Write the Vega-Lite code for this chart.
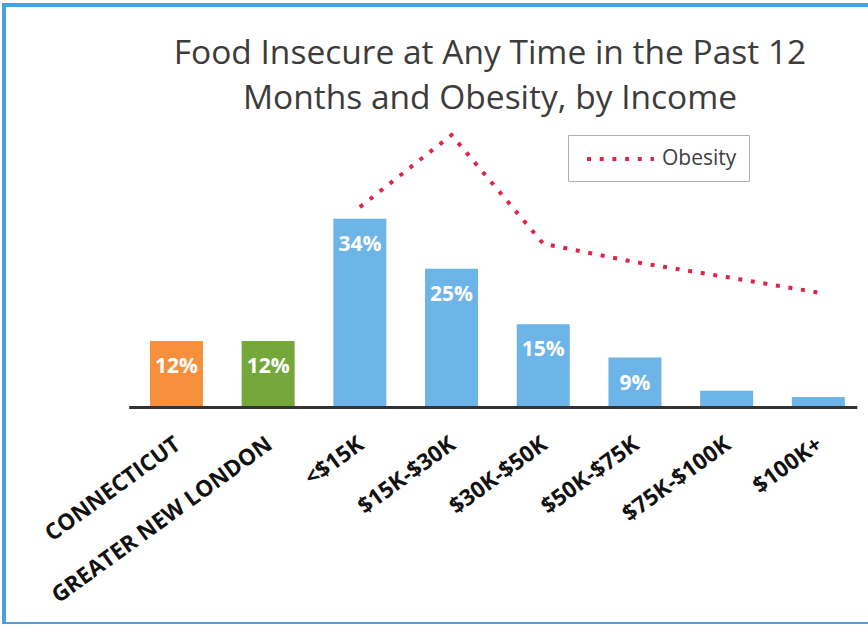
{
  "$schema": "https://vega.github.io/schema/vega-lite/v6.json",
  "width": 866,
  "height": 619,
  "autosize": {"type": "none"},
  "padding": {"left": 4, "top": 5, "right": -2, "bottom": 0},
  "background": "white",
  "config": {
    "view": {"stroke": "#4a9fe0", "strokeWidth": 4},
    "font": "Open Sans"
  },
  "title": {
    "text": ["Food Insecure at Any Time in the Past 12", "Months and Obesity, by Income"],
    "font": "Open Sans",
    "fontSize": 33.5,
    "fontWeight": "normal",
    "color": "#3c3c3c",
    "anchor": "middle",
    "frame": "group",
    "lineHeight": 45,
    "offset": -111,
    "dx": 53
  },
  "data": {
    "values": [
      {"category": "CONNECTICUT", "group": "Connecticut", "value": 12, "label": "12%", "obesity": null},
      {"category": "GREATER NEW LONDON", "group": "Greater New London", "value": 12, "label": "12%", "obesity": null},
      {"category": "<$15K", "group": "Income", "value": 34, "label": "34%", "obesity": 36.1},
      {"category": "$15K-$30K", "group": "Income", "value": 25, "label": "25%", "obesity": 49.1},
      {"category": "$30K-$50K", "group": "Income", "value": 15, "label": "15%", "obesity": 29.5},
      {"category": "$50K-$75K", "group": "Income", "value": 9, "label": "9%", "obesity": 26.2},
      {"category": "$75K-$100K", "group": "Income", "value": 3, "label": "", "obesity": 23.5},
      {"category": "$100K+", "group": "Income", "value": 1.9, "label": "", "obesity": 20.7}
    ]
  },
  "encoding": {
    "x": {
      "field": "category",
      "type": "nominal",
      "sort": null,
      "scale": {
        "domain": ["CONNECTICUT", "GREATER NEW LONDON", "<$15K", "$15K-$30K", "$30K-$50K", "$50K-$75K", "$75K-$100K", "$100K+"],
        "paddingInner": 0.422,
        "paddingOuter": 0.933,
        "align": 0.853
      },
      "axis": {
        "title": null,
        "orient": "bottom",
        "offset": -216.5,
        "domain": false,
        "ticks": false,
        "grid": false,
        "labelAngle": -36,
        "labelAlign": "right",
        "labelBaseline": "top",
        "labelPadding": 25,
        "labelOffset": -5,
        "labelFont": "Open Sans",
        "labelFontWeight": "bold",
        "labelFontSize": 22.5,
        "labelColor": "#111111",
        "labelLimit": 400,
        "labelOverlap": false
      }
    }
  },
  "layer": [
    {
      "mark": {"type": "bar"},
      "encoding": {
        "y": {
          "field": "value",
          "type": "quantitative",
          "scale": {"domain": [-39.01, 72.52], "nice": false, "zero": false},
          "axis": null
        },
        "y2": {"datum": 0},
        "color": {
          "field": "group",
          "type": "nominal",
          "scale": {
            "domain": ["Connecticut", "Greater New London", "Income"],
            "range": ["#f7903d", "#74a83b", "#6db4e9"]
          },
          "legend": null
        }
      }
    },
    {
      "mark": {"type": "rule", "color": "#333333", "strokeWidth": 3},
      "encoding": {
        "x": {"datum": "CONNECTICUT", "bandPosition": -0.38},
        "x2": {"datum": "$100K+", "bandPosition": 1.23},
        "y": {"datum": 0, "type": "quantitative"}
      }
    },
    {
      "mark": {"type": "text", "color": "white", "fontWeight": "bold", "fontSize": 21, "font": "Open Sans", "baseline": "middle", "dy": 26},
      "encoding": {
        "y": {"field": "value", "type": "quantitative"},
        "text": {"field": "label"}
      }
    },
    {
      "mark": {"type": "line", "strokeDash": [4, 8.7], "strokeWidth": 4},
      "encoding": {
        "y": {"field": "obesity", "type": "quantitative"},
        "stroke": {
          "datum": "Obesity",
          "type": "nominal",
          "scale": {"range": ["#e0234a"]},
          "legend": {
            "title": null,
            "orient": "none",
            "legendX": 564,
            "legendY": 130,
            "symbolType": "M-0.5,0H6.2",
            "symbolSize": 400,
            "symbolStrokeWidth": 4,
            "symbolDash": [4, 8.7],
            "labelFont": "Open Sans",
            "labelFontSize": 21,
            "labelColor": "#404040",
            "labelOffset": 58,
            "padding": 12,
            "strokeColor": "#b0b0b0"
          }
        }
      }
    }
  ]
}
